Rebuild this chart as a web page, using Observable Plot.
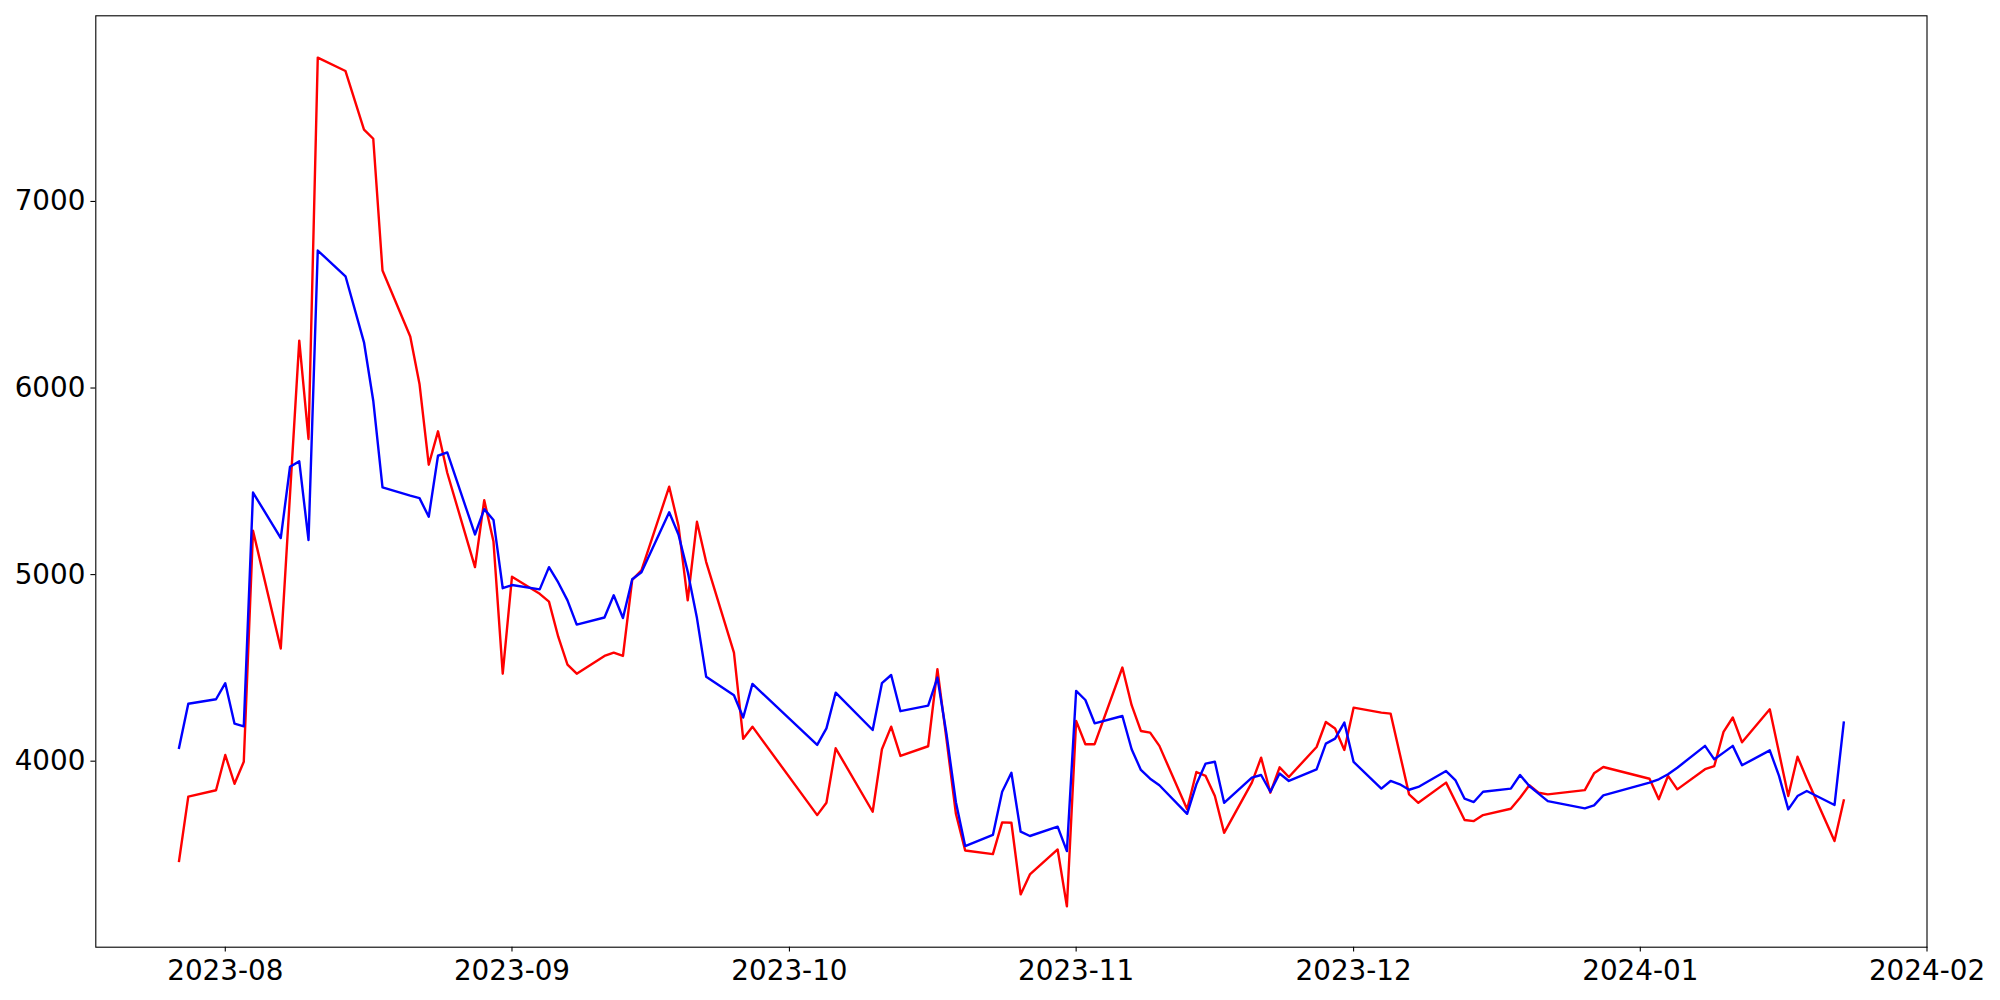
<!DOCTYPE html>
<html>
<head>
<meta charset="utf-8">
<script src="https://cdn.jsdelivr.net/npm/d3@7"></script>
<script src="https://cdn.jsdelivr.net/npm/@observablehq/plot@0.6"></script>
<style>
  html, body { margin: 0; padding: 0; background: #ffffff; }
  #chart { width: 2000px; height: 1000px; }
</style>
</head>
<body>
<div id="chart"></div>
<script>
// Trading dates (x)
const dates = [
  "2023-07-27","2023-07-28","2023-07-31",
  "2023-08-01","2023-08-02","2023-08-03","2023-08-04",
  "2023-08-07","2023-08-08","2023-08-09","2023-08-10","2023-08-11",
  "2023-08-14","2023-08-16","2023-08-17","2023-08-18",
  "2023-08-21","2023-08-22","2023-08-23","2023-08-24","2023-08-25",
  "2023-08-28","2023-08-29","2023-08-30","2023-08-31","2023-09-01",
  "2023-09-04","2023-09-05","2023-09-06","2023-09-07","2023-09-08",
  "2023-09-11","2023-09-12","2023-09-13","2023-09-14","2023-09-15",
  "2023-09-18","2023-09-19","2023-09-20","2023-09-21","2023-09-22",
  "2023-09-25","2023-09-26","2023-09-27",
  "2023-10-04","2023-10-05","2023-10-06",
  "2023-10-10","2023-10-11","2023-10-12","2023-10-13",
  "2023-10-16","2023-10-17","2023-10-18","2023-10-19","2023-10-20",
  "2023-10-23","2023-10-24","2023-10-25","2023-10-26","2023-10-27",
  "2023-10-30","2023-10-31","2023-11-01","2023-11-02","2023-11-03",
  "2023-11-06","2023-11-07","2023-11-08","2023-11-09","2023-11-10",
  "2023-11-13","2023-11-14","2023-11-15","2023-11-16","2023-11-17",
  "2023-11-20","2023-11-21","2023-11-22","2023-11-23","2023-11-24",
  "2023-11-27","2023-11-28","2023-11-29","2023-11-30","2023-12-01",
  "2023-12-04","2023-12-05","2023-12-06","2023-12-07","2023-12-08",
  "2023-12-11","2023-12-12","2023-12-13","2023-12-14","2023-12-15",
  "2023-12-18","2023-12-19","2023-12-20","2023-12-21","2023-12-22",
  "2023-12-26","2023-12-27","2023-12-28",
  "2024-01-02","2024-01-03","2024-01-04","2024-01-05",
  "2024-01-08","2024-01-09","2024-01-10","2024-01-11","2024-01-12",
  "2024-01-15","2024-01-16","2024-01-17","2024-01-18","2024-01-19",
  "2024-01-22","2024-01-23"
];

// Red series
const redValues = [
  3465,3810,3844,
  4033,3879,3997,5235,
  4604,5430,6254,5727,7771,
  7699,7385,7336,6630,
  6276,6022,5589,5768,5546,
  5040,5399,5177,4469,4989,
  4897,4855,4667,4517,4469,
  4564,4582,4564,4972,5023,
  5471,5262,4862,5283,5067,
  4582,4120,4185,
  3711,3777,4069,
  3729,4064,4185,4028,
  4080,4493,4110,3718,3521,
  3502,3672,3670,3286,3393,
  3527,3222,4216,4091,4091,
  4502,4300,4162,4153,4082,
  3742,3942,3921,3813,3616,
  3885,4019,3831,3967,3915,
  4076,4210,4175,4060,4287,
  4260,4255,4039,3822,3777,
  3885,3785,3685,3679,3711,
  3745,3804,3871,3831,3822,
  3845,3935,3969,
  3906,3796,3921,3849,
  3957,3974,4157,4234,4101,
  4278,4046,3813,4024,3906,
  3572,3790
];

// Blue series
const blueValues = [
  4072,4308,4332,
  4418,4201,4187,5440,
  5196,5578,5607,5185,6737,
  6599,6245,5932,5467,
  5423,5410,5310,5637,5655,
  5215,5351,5293,4927,4944,
  4921,5040,4958,4862,4732,
  4770,4889,4767,4975,5013,
  5334,5215,5016,4767,4452,
  4353,4234,4414,
  4087,4176,4367,
  4167,4418,4462,4268,
  4298,4448,4140,3780,3545,
  3605,3836,3938,3622,3599,
  3649,3518,4377,4328,4203,
  4242,4064,3953,3906,3871,
  3718,3876,3987,3997,3777,
  3912,3926,3836,3934,3894,
  3956,4094,4121,4207,3996,
  3853,3894,3876,3847,3862,
  3947,3899,3799,3781,3836,
  3853,3926,3867,3826,3786,
  3747,3763,3817,
  3885,3903,3930,3965,
  4082,4010,4046,4082,3978,
  4058,3921,3742,3813,3840,
  3765,4207
];

// Axis ticks
const xTickLabels = ["2023-08","2023-09","2023-10","2023-11","2023-12","2024-01","2024-02"];
const yTicks = [4000, 5000, 6000, 7000];
const xDomain = ["2023-07-18", "2024-02-01"];
const yDomain = [3003, 7995];

const parse = s => new Date(s + "T00:00:00Z");
const redRows = dates.map((d, i) => ({date: parse(d), value: redValues[i]}));
const blueRows = dates.map((d, i) => ({date: parse(d), value: blueValues[i]}));

const chart = Plot.plot({
  width: 2000,
  height: 1000,
  marginLeft: 95.3,
  marginRight: 73.5,
  marginTop: 15.3,
  marginBottom: 53.3,
  style: {
    fontFamily: "'DejaVu Sans', sans-serif",
    fontSize: "27.8px",
    color: "black",
    background: "white",
    overflow: "visible"
  },
  x: {type: "utc", domain: xDomain.map(parse), label: null},
  y: {domain: yDomain, label: null},
  marks: [
    Plot.line(redRows, {x: "date", y: "value", stroke: "#ff0000", strokeWidth: 2.4, strokeLinejoin: "round", strokeLinecap: "square"}),
    Plot.line(blueRows, {x: "date", y: "value", stroke: "#0000ff", strokeWidth: 2.4, strokeLinejoin: "round", strokeLinecap: "square"}),
    Plot.frame({stroke: "black", strokeWidth: 1.1}),
    Plot.axisX({
      ticks: xTickLabels.map(t => parse(t + "-01")),
      tickFormat: d3.utcFormat("%Y-%m"),
      tickSize: 4.9,
      tickPadding: 8,
      strokeWidth: 1.1,
      label: null
    }),
    Plot.axisY({
      ticks: yTicks,
      tickFormat: d => String(d),
      tickSize: 4.9,
      tickPadding: 5.5,
      strokeWidth: 1.1,
      label: null
    })
  ]
});
document.getElementById("chart").appendChild(chart);
</script>
</body>
</html>
